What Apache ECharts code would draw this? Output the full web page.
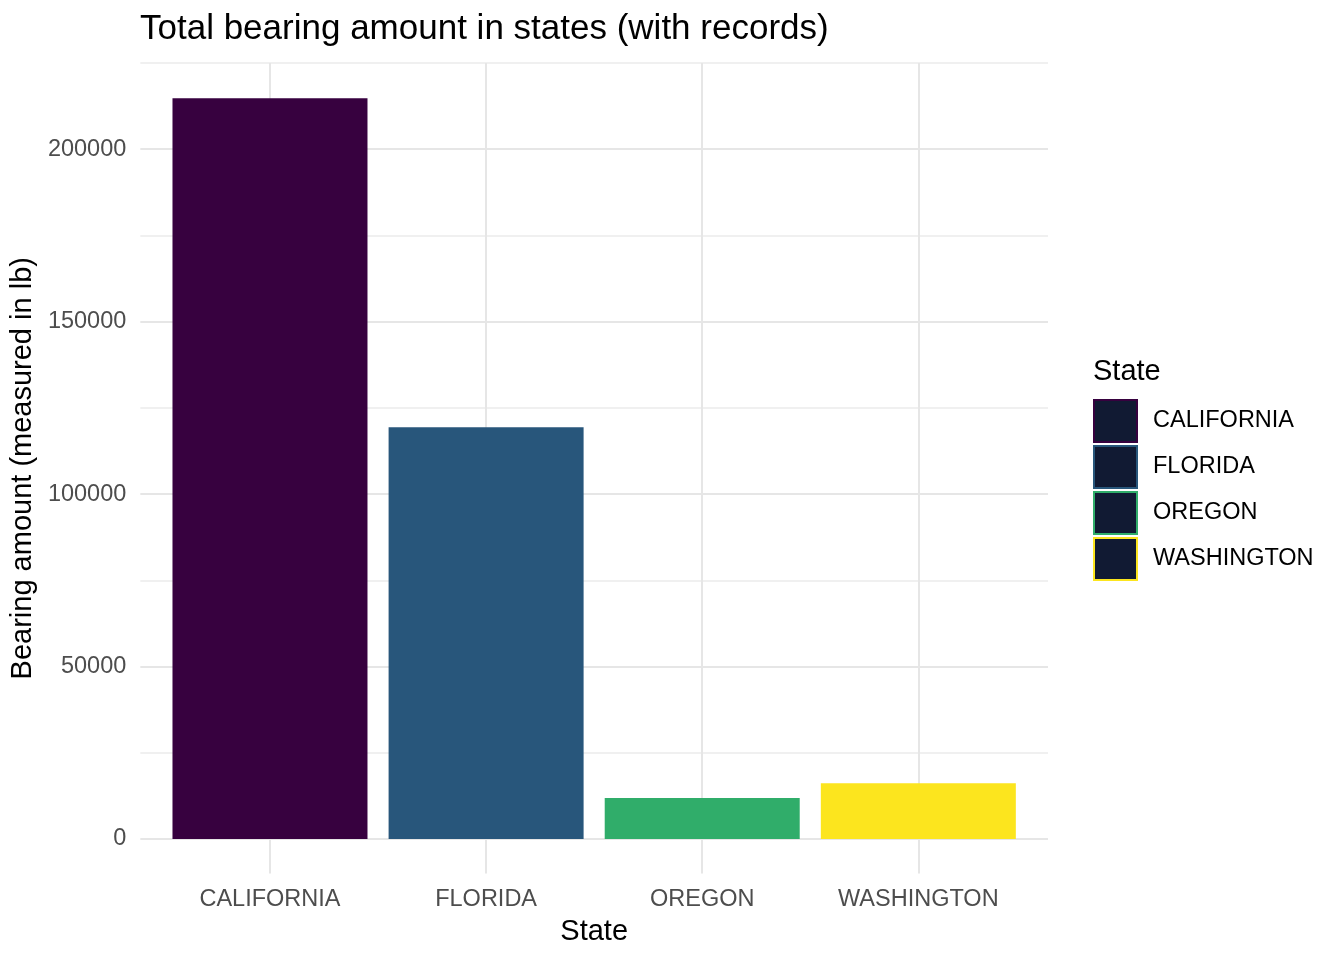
<!DOCTYPE html>
<html>
<head>
<meta charset="utf-8">
<script src="https://cdn.jsdelivr.net/npm/echarts@6/dist/echarts.min.js"></script>
<style>
  html, body { margin: 0; padding: 0; background: #fff; }
  #chart { width: 1344px; height: 960px; }
</style>
</head>
<body>
<div id="chart"></div>
<script>
// data
const states = ['CALIFORNIA', 'FLORIDA', 'OREGON', 'WASHINGTON']
const bearing = [214800, 119400, 11900, 16200]
const colors = ['#37013f', '#28567b', '#30ad6a', '#fce51e']
const yTicks = [0, 50000, 100000, 150000, 200000]

const font = 'Liberation Sans, Arial, Helvetica, sans-serif'
const major = '#e6e6e6'
const minor = '#f0f0f0'
const none = 'rgba(0,0,0,0)'

// x positions: category i sits at (i + 1) * 10 on a value axis (ggplot style padding)
const pos = i => (i + 1) * 10

const chart = echarts.init(document.getElementById('chart'))

chart.setOption({
  animation: false,
  textStyle: { fontFamily: font },
  title: [{
    text: 'Total bearing amount in states (with records)',
    left: 135,
    top: 7,
    textStyle: { fontSize: 35, fontWeight: 'normal', color: '#000', fontFamily: font }
  }, {
    text: 'State',
    left: 1088,
    top: 352,
    textStyle: { fontSize: 29, fontWeight: 'normal', color: '#000', fontFamily: font }
  }],
  legend: {
    orient: 'vertical',
    left: 1088,
    top: 394,
    itemWidth: 43,
    itemHeight: 42,
    itemGap: 2,
    icon: 'rect',
    textStyle: { fontSize: 23.5, color: '#000', padding: [4, 0, 0, 11], fontFamily: font },
    data: states.map((s, i) => ({
      name: s,
      itemStyle: { color: '#111a33', borderColor: colors[i], borderWidth: 2 }
    }))
  },
  grid: { left: 140, right: 296, top: 63, bottom: 86.5 },
  xAxis: {
    type: 'value',
    min: 4,
    max: 46,
    interval: 2,
    name: 'State',
    nameLocation: 'middle',
    nameGap: 44,
    nameTextStyle: { fontSize: 29, color: '#000' },
    axisLine: { show: false, onZero: false },
    axisTick: { show: false },
    axisLabel: {
      margin: 14,
      fontSize: 23.5,
      color: '#4d4d4d',
      formatter: v => (v % 10 === 0 && v >= 10 && v <= 40) ? states[v / 10 - 1] : ''
    },
    splitLine: {
      show: true,
      lineStyle: { color: [none, none, none, major, none], width: 2 }
    }
  },
  yAxis: {
    type: 'value',
    min: -10000,
    max: 225000,
    interval: 5000,
    name: 'Bearing amount (measured in lb)',
    nameLocation: 'middle',
    nameGap: 98,
    nameTextStyle: { fontSize: 29, color: '#000' },
    axisLine: { show: false, onZero: false },
    axisTick: { show: false },
    axisLabel: {
      margin: 14,
      fontSize: 23.5,
      color: '#4d4d4d',
      padding: [4, 0, 0, 0],
      formatter: v => yTicks.indexOf(v) >= 0 ? String(v) : ''
    },
    splitLine: {
      show: true,
      lineStyle: {
        color: [none, none, major, none, none, none, none, minor, none, none],
        width: 2
      }
    }
  },
  series: states.map((s, i) => ({
    name: s,
    type: 'bar',
    barWidth: 195,
    barGap: '-100%',
    itemStyle: { color: colors[i] },
    data: [[pos(i), bearing[i]]]
  }))
})
</script>
</body>
</html>
